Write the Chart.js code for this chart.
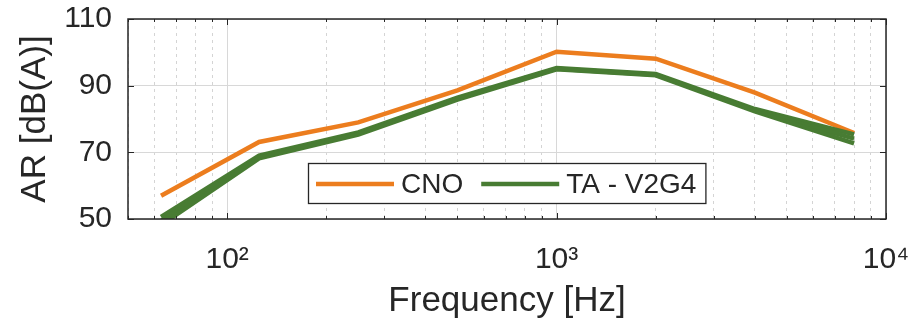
<!DOCTYPE html>
<html><head><meta charset="utf-8">
<script src="https://cdn.jsdelivr.net/npm/chart.js@4/dist/chart.umd.min.js"></script>
<style>html,body{margin:0;padding:0;background:#fff;overflow:hidden}#wrap{width:910px;height:324px}</style>
</head><body><div id="wrap"><canvas id="c" width="910" height="324"></canvas></div>
<script>
// ---- data ----
const frequencies = [63, 125, 250, 500, 1000, 2000, 4000, 8000];
const cnoValues   = [57, 73.1, 79, 88.6, 100.2, 98.1, 87.9, 75.8];
const taValuesA   = [50.6, 69, 76, 86.4, 95.3, 93.5, 83, 75.4];
const taValuesB   = [49.4, 68.6, 75.6, 86.1, 95.1, 93.3, 82.6, 74.1];
const taValuesC   = [48.2, 68.2, 75.3, 85.8, 94.9, 93.1, 82.3, 72.7];
const seriesNames = ['CNO', 'TA - V2G4'];
const xTickValues = [50,60,70,80,90,100,200,300,400,500,600,700,800,900,1000,2000,3000,4000,5000,6000,7000,8000,9000,10000];
const xTickLabels = {100: '10\u00B2', 1000: '10\u00B3', 10000: '10\u2074'};
const yTickValues = [50, 70, 90, 110];

const TXT = '#262626';
const FONT = '"Liberation Sans", Arial, Helvetica, sans-serif';
const ORANGE = '#ec7d1e';
const GREEN = '#487c33';

const pts = vals => frequencies.map((f, i) => ({x: f, y: vals[i]}));

const framePlugin = {
  id: 'frame',
  afterDatasetsDraw(chart) {
    const {ctx, chartArea: a, scales: {x, y}} = chart;
    ctx.save();
    ctx.strokeStyle = TXT;
    ctx.lineWidth = 1;
    ctx.beginPath();
    xTickValues.forEach(v => {
      const px = Math.round(x.getPixelForValue(v)) + 0.5;
      const L = xTickLabels[v] ? 6 : 3;
      ctx.moveTo(px, a.bottom); ctx.lineTo(px, a.bottom - L);
      ctx.moveTo(px, a.top); ctx.lineTo(px, a.top + L);
    });
    yTickValues.forEach(v => {
      const py = Math.round(y.getPixelForValue(v)) + 0.5;
      ctx.moveTo(a.left, py); ctx.lineTo(a.left + 6, py);
      ctx.moveTo(a.right, py); ctx.lineTo(a.right - 6, py);
    });
    ctx.stroke();
    ctx.lineWidth = 1.5;
    ctx.strokeRect(a.left, a.top, a.right - a.left, a.bottom - a.top);

    // legend (MATLAB 'south' location)
    const ds = chart.data.datasets;
    const items = [ds[0], ds[1]];
    ctx.font = '28px ' + FONT;
    const lineLen = 78, gapLT = 7, gapItem = 18, padL = 8, padR = 9, h = 40;
    const widths = items.map(d => ctx.measureText(d.label).width);
    const total = padL + padR + items.length * (lineLen + gapLT) + widths.reduce((s, w) => s + w, 0) + gapItem * (items.length - 1);
    const bx = Math.round((a.left + a.right) / 2 - total / 2);
    const by = Math.round(a.bottom - 16 - h);
    ctx.fillStyle = '#fff';
    ctx.fillRect(bx, by, total, h);
    ctx.lineWidth = 1.3;
    ctx.strokeStyle = TXT;
    ctx.strokeRect(bx + 0.5, by + 0.5, total, h);
    let cx = bx + padL;
    const cy = by + h / 2 + 1;
    items.forEach((d, i) => {
      ctx.strokeStyle = d.borderColor;
      ctx.lineWidth = 4.5;
      ctx.beginPath(); ctx.moveTo(cx, cy); ctx.lineTo(cx + lineLen, cy); ctx.stroke();
      cx += lineLen + gapLT;
      ctx.fillStyle = TXT;
      ctx.textBaseline = 'middle';
      ctx.textAlign = 'left';
      ctx.fillText(d.label, cx, cy + 1);
      cx += widths[i] + gapItem;
    });
    ctx.restore();
  }
};

const lineDs = (label, vals, color, order) => ({
  label, data: pts(vals), borderColor: color, borderWidth: 4.5, pointRadius: 0, clip: 0, order
});

new Chart(document.getElementById('c'), {
  type: 'line',
  data: {
    datasets: [
      lineDs(seriesNames[0], cnoValues, ORANGE, 4),
      lineDs(seriesNames[1], taValuesA, GREEN, 3),
      lineDs(seriesNames[1] + ' (b)', taValuesB, GREEN, 2),
      lineDs(seriesNames[1] + ' (c)', taValuesC, GREEN, 1)
    ]
  },
  options: {
    responsive: false,
    animation: false,
    devicePixelRatio: 1,
    layout: {padding: {left: 0, top: 19, right: 24, bottom: 0}},
    plugins: {legend: {display: false}, tooltip: {enabled: false}},
    scales: {
      x: {
        type: 'logarithmic', min: 50, max: 10000,
        afterBuildTicks: s => { s.ticks = xTickValues.map(v => ({value: v})); },
        afterFit: s => { s.height = 105; s.paddingLeft = 0; s.paddingRight = 0; },
        ticks: {
          autoSkip: false, maxRotation: 0, minRotation: 0, padding: 23,
          color: TXT, font: {family: FONT, size: 30},
          callback: v => xTickLabels[v] || ''
        },
        grid: {
          drawTicks: false, lineWidth: 1,
          color: c => (c.tick && xTickLabels[c.tick.value]) ? '#d8d8d8' : '#d4d4d4'
        },
        border: {display: false, dash: c => (c.tick && xTickLabels[c.tick.value]) ? [] : [3, 4]},
        title: {display: true, text: 'Frequency [Hz]', color: TXT, font: {family: FONT, size: 35}, padding: {top: 0, bottom: 2}}
      },
      y: {
        min: 50, max: 110,
        afterBuildTicks: s => { s.ticks = yTickValues.map(v => ({value: v})); },
        afterFit: s => { s.width = 128; s.paddingTop = 0; s.paddingBottom = 0; },
        ticks: {padding: 16, color: TXT, font: {family: FONT, size: 30}},
        grid: {drawTicks: false, color: '#d8d8d8', lineWidth: 1},
        border: {display: false},
        title: {display: true, text: 'AR [dB(A)]', color: TXT, font: {family: FONT, size: 35}, padding: {top: 14, bottom: 0}}
      }
    }
  },
  plugins: [framePlugin]
});
</script>
</body></html>
